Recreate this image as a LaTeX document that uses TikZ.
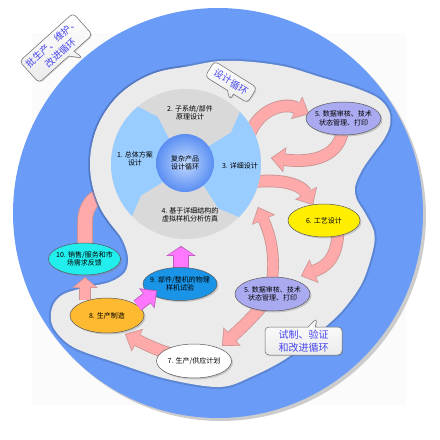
\documentclass[tikz,border=0pt]{standalone}
\usepackage{fontspec}
\setmainfont{Noto Sans CJK SC}
\usetikzlibrary{shapes.geometric,shapes.callouts,arrows.meta,calc,shadows}
\definecolor{bigblue}{HTML}{6A9BF7}
\definecolor{blobgray}{HTML}{EBEBEB}
\definecolor{segblue}{HTML}{99CCFF}
\definecolor{seggray}{HTML}{D9D9D9}
\definecolor{pinkfill}{HTML}{FFAAAA}
\definecolor{pinkedge}{HTML}{C99393}
\definecolor{magfill}{HTML}{FF77FF}
\definecolor{magedge}{HTML}{B55AB5}
\definecolor{lav}{HTML}{AAAAF0}
\definecolor{yel}{HTML}{FFEE00}
\definecolor{org}{HTML}{FDBA30}
\definecolor{blunine}{HTML}{1A94E6}
\definecolor{cyn}{HTML}{22EEEE}
\definecolor{calltext}{HTML}{4646F0}
\definecolor{coreA}{HTML}{C2DAFF}
\definecolor{coreB}{HTML}{5A8EF2}
\newcommand\blockarrow[6]{%
  \pgfmathsetlengthmacro\baOLW{#3pt+1.6pt}%
  \pgfmathsetlengthmacro\baOW{#4pt+3pt}%
  \pgfmathsetlengthmacro\baOL{#5pt+1.8pt}%
  \draw[draw=#1, line width=\baOLW, -{Triangle[width=\baOW,length=\baOL,line width=0.1pt]}] #6;%
  \draw[draw=#2, line width=#3pt, shorten >=1.2pt, -{Triangle[width=#4pt,length=#5pt,line width=0.1pt]}] #6;%
}
\begin{document}
\begin{tikzpicture}[x=1pt,y=-1pt,
  txt/.style={font=\fontsize{7}{8.6}\selectfont, align=center, inner sep=0pt},
  ell/.style={ellipse, draw=black!65, line width=0.5pt, inner sep=0pt,
    drop shadow={opacity=0.35,shadow xshift=1.5pt,shadow yshift=-1.5pt}},
  bubble/.style={rectangle callout, rounded corners=4pt, draw=black!60, line width=0.5pt,
    top color=white, bottom color=black!8, text=calltext,
    font=\fontsize{9.5}{13}\selectfont, align=center, inner sep=2pt,
    drop shadow={opacity=0.25,shadow xshift=1pt,shadow yshift=-1pt}},
  blobedge/.style={draw=bigblue!70!black, draw opacity=0.45, line width=4pt}]
\useasboundingbox (0,0) rectangle (440,440);
% faint background
\fill[black!1.5] (32,33) rectangle (406,405);
% big circle
\fill[black!20] (221,216) circle[radius=205];
\fill[bigblue] (218,213) circle[radius=205];
% arrow 11 (under blob)
\coordinate (a11s) at (85,252);
\coordinate (a11m) at (85,222);
\coordinate (a11c1) at (85,205);
\coordinate (a11c2) at (95,197);
\coordinate (a11e) at (116,193);
\blockarrow{pinkedge}{pinkfill}{14}{26}{13}{(a11s) -- (a11m) .. controls (a11c1) and (a11c2) .. (a11e)}
% blob
\coordinate (P) at (186,164);
\draw[blobedge] plot[smooth cycle, tension=0.55] coordinates {(118,96) (153,74) (190,66) (220,61) (253,62) (287,67) (320,77) (353,87) (378,98) (389,111) (390,125) (384,139) (373,154) (362,170) (355,187) (357,200) (365,213) (374,232) (373,250) (362,283) (342,311) (318,333) (287,358) (253,376) (220,387) (167,379) (117,363) (73,347) (53,327) (52,308) (62,295) (83,288) (110,282) (125,272) (128,257) (122,239) (110,223) (99,205) (91,172) (96,131)};
\draw[blobedge] (P) circle[radius=96];
\fill[blobgray] plot[smooth cycle, tension=0.55] coordinates {(118,96) (153,74) (190,66) (220,61) (253,62) (287,67) (320,77) (353,87) (378,98) (389,111) (390,125) (384,139) (373,154) (362,170) (355,187) (357,200) (365,213) (374,232) (373,250) (362,283) (342,311) (318,333) (287,358) (253,376) (220,387) (167,379) (117,363) (73,347) (53,327) (52,308) (62,295) (83,288) (110,282) (125,272) (128,257) (122,239) (110,223) (99,205) (91,172) (96,131)};
\fill[blobgray] (P) circle[radius=96];
% pink arrows
\coordinate (a1s) at (250,133); \coordinate (a1c) at (262,106); \coordinate (a1d) at (287,103); \coordinate (a1e) at (309,114);
\blockarrow{pinkedge}{pinkfill}{11}{22}{12}{(a1s) .. controls (a1c) and (a1d) .. (a1e)}
\coordinate (a2s) at (342,134); \coordinate (a2c) at (336,158); \coordinate (a2d) at (310,163); \coordinate (a2e) at (271,158);
\blockarrow{pinkedge}{pinkfill}{11}{22}{12}{(a2s) .. controls (a2c) and (a2d) .. (a2e)}
\coordinate (a3s) at (252,182); \coordinate (a3c) at (285,178); \coordinate (a3d) at (302,186); \coordinate (a3e) at (313,205);
\blockarrow{pinkedge}{pinkfill}{11}{22}{12}{(a3s) .. controls (a3c) and (a3d) .. (a3e)}
\coordinate (a4s) at (338,232); \coordinate (a4c) at (337,262); \coordinate (a4d) at (322,268); \coordinate (a4e) at (301,276);
\blockarrow{pinkedge}{pinkfill}{11}{22}{12}{(a4s) .. controls (a4c) and (a4d) .. (a4e)}
\coordinate (a5s) at (272,280); \coordinate (a5c) at (276,250); \coordinate (a5d) at (268,230); \coordinate (a5e) at (258,207);
\blockarrow{pinkedge}{pinkfill}{10}{22}{12}{(a5s) .. controls (a5c) and (a5d) .. (a5e)}
\coordinate (a6s) at (262,306); \coordinate (a6c) at (250,320); \coordinate (a6d) at (238,331); \coordinate (a6e) at (222,346);
\blockarrow{pinkedge}{pinkfill}{11}{22}{12}{(a6s) .. controls (a6c) and (a6d) .. (a6e)}
\coordinate (a7s) at (172,354); \coordinate (a7c) at (156,350); \coordinate (a7d) at (141,342); \coordinate (a7e) at (125,334);
\blockarrow{pinkedge}{pinkfill}{11}{22}{12}{(a7s) .. controls (a7c) and (a7d) .. (a7e)}
\coordinate (a10s) at (85,300); \coordinate (a10e) at (85,277);
\blockarrow{pinkedge}{pinkfill}{10}{22}{9}{(a10s) -- (a10e)}
\coordinate (m9s) at (181,272); \coordinate (m9e) at (181,246);
\blockarrow{magedge}{magfill}{14}{26}{8}{(m9s) -- (m9e)}
% pie
\fill[seggray] (P) circle[radius=75];
\fill[segblue] ($(P)+(-130:15)$) -- ($(P)+(-121:55)$) -- ($(P)+(-130:75)$) arc[start angle=-130,end angle=-224,radius=75] -- ($(P)+(-215:55)$) -- ($(P)+(-224:15)$) -- cycle;
\fill[segblue] ($(P)+(-44:15)$) -- ($(P)+(-35:55)$) -- ($(P)+(-44:75)$) arc[start angle=-44,end angle=45,radius=75] -- ($(P)+(54:55)$) -- ($(P)+(45:15)$) -- cycle;
\node[circle, minimum size=58pt, inner sep=0pt, inner color=coreA, outer color=coreB] (core) at (185,163) {};
\node[txt] (corelbl) at (core) {复杂产品\\设计循环};
\node[txt] (s1) at (135,159) {1. 总体方案\\设计};
\node[txt] (s2) at (190,113) {2. 子系统/部件\\原理设计};
\node[txt] (s3) at (240,166) {3. 详细设计};
\node[txt] (s4) at (190,215) {4. 基于详细结构的\\虚拟样机分析仿真};
% ellipses
\node[ell, fill=lav, minimum width=75pt, minimum height=33pt] (e5a) at (343.5,118.5) {};
\node[txt] at (e5a) {5. 数据审核、技术\\状态管理、打印};
\node[ell, fill=yel, minimum width=72pt, minimum height=33pt] (e6) at (324,220.5) {};
\node[txt] at (e6) {6. 工艺设计};
\node[ell, fill=lav, minimum width=75pt, minimum height=34pt] (e5b) at (272.5,294) {};
\node[txt] at (e5b) {5. 数据审核、技术\\状态管理、打印};
\node[ell, fill=white, minimum width=75pt, minimum height=34pt] (e7) at (194,361) {};
\node[txt] at (e7) {7. 生产/供应计划};
\node[ell, fill=org, minimum width=74pt, minimum height=35pt] (e8) at (107,315.5) {};
\node[txt] at (e8) {8. 生产制造};
\node[ell, fill=blunine, minimum width=74pt, minimum height=33pt] (e9) at (180,284) {};
\node[txt] at (e9) {9. 部件/整机的物理\\样机试验};
\node[ell, fill=cyn, minimum width=72pt, minimum height=32pt] (e10) at (84.5,259) {};
\node[txt] at (e10) {10. 销售/服务和市\\场需求反馈};
% magenta arrow 8 -> 9
\coordinate (m8s) at (137.5,305.5); \coordinate (m8e) at (157,290.5);
\blockarrow{magedge}{magfill}{11}{22}{11}{(m8s) -- (m8e)}
% callouts
\coordinate (t1) at (83,58);
\coordinate (t2) at (230,100);
\coordinate (t3) at (317,318);
\node[bubble, rotate=42, minimum width=72pt, minimum height=29pt, callout absolute pointer={(t1)}] (b1) at (56,48) {批生产、维护、\\改进循环};
\node[bubble, rotate=-32, minimum width=50pt, minimum height=18pt, callout absolute pointer={(t2)}] (b2) at (231,82) {设计循环};
\node[bubble, minimum width=77pt, minimum height=28pt, callout absolute pointer={(t3)}, font=\fontsize{10}{12.5}\selectfont] (b3) at (303.5,341) {试制、验证\\和改进循环};
\end{tikzpicture}
\end{document}
